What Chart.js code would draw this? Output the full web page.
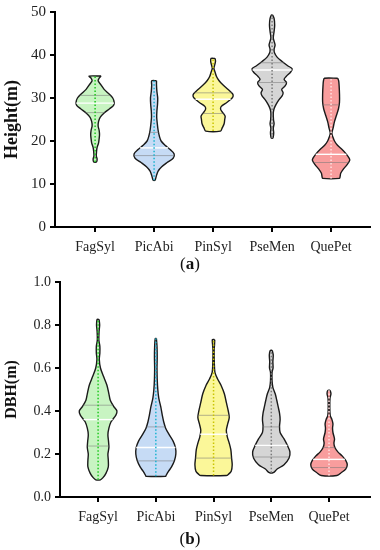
<!DOCTYPE html>
<html>
<head>
<meta charset="utf-8">
<script src="https://cdn.jsdelivr.net/npm/chart.js@4.4.0/dist/chart.umd.min.js"></script>
<style>
  body { margin: 0; background: #fff; }
  .panel { position: absolute; left: 0; width: 380px; height: 280px; }
  .panel canvas { display: block; }
  .cap { position: absolute; left: 0; width: 380px; text-align: center; font: 17px "Liberation Serif", serif; color: #111; }
</style>
</head>
<body>
<div class="panel" style="top:0"><canvas id="heightChart" width="380" height="275"></canvas><div class="cap" style="top:254px">(<b>a</b>)</div></div>
<div class="panel" style="top:270px"><canvas id="dbhChart" width="380" height="280"></canvas><div class="cap" style="top:259px">(<b>b</b>)</div></div>
<script>
const species = ["FagSyl", "PicAbi", "PinSyl", "PseMen", "QuePet"];

// violin outlines: [value, relative density]
const fagSylHeight = [[35.1,0.3],[34.6,0.2],[34.0,0.15],[33.0,0.3],[32.0,0.45],[31.0,0.68],[30.0,0.88],[29.0,0.95],[28.3,0.92],[27.5,0.72],[26.5,0.45],[25.5,0.25],[24.5,0.17],[23.5,0.15],[22.5,0.2],[21.5,0.22],[20.5,0.2],[19.5,0.17],[18.5,0.1],[17.5,0.07],[16.5,0.06],[15.8,0.1],[15.1,0.07]];
const picAbiHeight = [[34.0,0.12],[33.0,0.12],[31.5,0.14],[30.0,0.18],[28.5,0.17],[27.0,0.14],[25.5,0.13],[24.0,0.16],[22.5,0.2],[21.0,0.27],[20.0,0.35],[19.0,0.55],[18.0,0.8],[17.0,1.0],[16.0,0.95],[15.0,0.65],[14.0,0.38],[13.0,0.2],[12.0,0.12],[11.3,0.08],[10.9,0.05]];
const pinSylHeight = [[39.2,0.1],[38.5,0.12],[37.5,0.07],[36.9,0.04],[36.0,0.1],[35.0,0.17],[34.0,0.3],[33.0,0.5],[32.0,0.75],[31.0,0.97],[30.5,1.0],[30.0,0.95],[29.0,0.7],[28.0,0.4],[27.3,0.38],[26.5,0.5],[25.8,0.6],[25.0,0.58],[24.0,0.55],[23.0,0.45],[22.3,0.37]];
const pseMenHeight = [[49.3,0.03],[48.5,0.1],[47.0,0.13],[45.5,0.1],[44.0,0.06],[43.2,0.1],[42.3,0.15],[41.3,0.1],[40.5,0.12],[39.5,0.25],[38.5,0.5],[37.5,0.78],[36.8,1.0],[36.0,0.92],[35.0,0.7],[34.3,0.6],[33.6,0.72],[32.8,0.65],[32.0,0.48],[31.2,0.55],[30.5,0.5],[29.5,0.33],[28.5,0.2],[27.5,0.1],[26.5,0.06],[25.0,0.07],[24.0,0.1],[23.0,0.06],[22.0,0.08],[21.3,0.07],[20.7,0.04]];
const quePetHeight = [[34.6,0.33],[34.0,0.38],[33.0,0.4],[31.0,0.42],[29.0,0.42],[27.5,0.37],[26.0,0.27],[24.5,0.17],[23.0,0.1],[21.8,0.04],[20.8,0.1],[20.0,0.17],[19.0,0.32],[18.0,0.55],[17.0,0.75],[16.0,0.9],[15.5,0.93],[14.5,0.8],[13.5,0.62],[12.5,0.48],[11.7,0.45],[11.3,0.42]];

const fagSylDbh = [[0.826,0.05],[0.80,0.08],[0.77,0.05],[0.73,0.04],[0.70,0.09],[0.67,0.09],[0.64,0.06],[0.60,0.12],[0.56,0.28],[0.52,0.45],[0.48,0.55],[0.45,0.62],[0.42,0.8],[0.40,0.96],[0.38,0.9],[0.35,0.66],[0.32,0.55],[0.29,0.5],[0.26,0.53],[0.23,0.55],[0.20,0.5],[0.17,0.52],[0.14,0.52],[0.11,0.4],[0.09,0.25],[0.08,0.12]];
const picAbiDbh = [[0.737,0.03],[0.70,0.06],[0.65,0.07],[0.60,0.06],[0.55,0.07],[0.50,0.1],[0.46,0.15],[0.42,0.25],[0.38,0.33],[0.35,0.4],[0.32,0.5],[0.29,0.68],[0.26,0.88],[0.23,1.0],[0.20,1.02],[0.17,0.95],[0.14,0.8],[0.12,0.65],[0.10,0.52],[0.096,0.5]];
const pinSylDbh = [[0.732,0.06],[0.71,0.05],[0.68,0.03],[0.62,0.04],[0.58,0.07],[0.55,0.2],[0.52,0.38],[0.48,0.55],[0.44,0.65],[0.40,0.75],[0.37,0.8],[0.34,0.72],[0.31,0.65],[0.28,0.7],[0.25,0.8],[0.22,0.88],[0.18,0.92],[0.15,0.95],[0.12,0.9],[0.105,0.75],[0.10,0.65]];
const pseMenDbh = [[0.682,0.05],[0.66,0.1],[0.63,0.08],[0.60,0.09],[0.58,0.04],[0.54,0.04],[0.51,0.08],[0.48,0.2],[0.45,0.28],[0.42,0.35],[0.39,0.42],[0.36,0.45],[0.33,0.42],[0.30,0.45],[0.27,0.65],[0.24,0.82],[0.21,0.95],[0.18,0.9],[0.15,0.65],[0.13,0.3],[0.113,0.1]];
const quePetDbh = [[0.496,0.06],[0.48,0.1],[0.46,0.05],[0.42,0.04],[0.38,0.06],[0.36,0.15],[0.34,0.2],[0.32,0.18],[0.30,0.2],[0.27,0.28],[0.25,0.25],[0.23,0.3],[0.21,0.45],[0.19,0.68],[0.17,0.85],[0.15,0.93],[0.13,0.85],[0.115,0.65],[0.10,0.4]];

// [lower quartile, median, upper quartile]
const heightQuartiles = [[26.6, 28.8, 30.6], [16.6, 18.4, 22.0], [26.4, 29.7, 31.2], [33.6, 36.5, 38.2], [15.0, 16.9, 28.4]];
const dbhQuartiles = [[0.237, 0.36, 0.427], [0.168, 0.23, 0.326], [0.181, 0.292, 0.38], [0.186, 0.24, 0.326], [0.137, 0.175, 0.23]];

const fillColors = ["#c8f4c2", "#c6dbf5", "#fbf799", "#d5d5d5", "#f89d9d"];
const centerColors = ["#1ec81e", "#19b3d0", "#c9c400", "#7a7a7a", "#ffe0e0"];
const halfWidth = 0.34;

function densityAt(profile, v) {
  for (let i = 0; i < profile.length - 1; i++) {
    const a = profile[i], b = profile[i + 1];
    if (v <= a[0] && v >= b[0]) {
      return a[1] + (b[1] - a[1]) * (a[0] - v) / (a[0] - b[0]);
    }
  }
  return 0;
}

function makeDatasets(profiles, quartiles) {
  let violins = [];
  let lines = [];
  for (let i = 0; i < profiles.length; i++) {
    const c = i + 1;
    const p = profiles[i];
    let pts = [];
    for (let j = 0; j < p.length; j++) pts.push({ x: c + p[j][1] * halfWidth, y: p[j][0] });
    for (let j = p.length - 1; j >= 0; j--) pts.push({ x: c - p[j][1] * halfWidth, y: p[j][0] });
    pts.push(pts[0]);
    violins.push({
      data: pts, showLine: true, fill: 'shape', tension: 0.3,
      backgroundColor: fillColors[i], borderColor: '#1a1a1a', borderWidth: 1.4,
      pointRadius: 0, order: 2
    });
    const q = quartiles[i];
    for (let k = 0; k < 3; k++) {
      const w = densityAt(p, q[k]) * halfWidth;
      lines.push({
        data: [{ x: c - w, y: q[k] }, { x: c + w, y: q[k] }], showLine: true,
        borderColor: k === 1 ? '#ffffff' : 'rgba(120,120,120,0.55)', borderWidth: k === 1 ? 1.4 : 1,
        pointRadius: 0, order: 1
      });
    }
    lines.push({
      data: [{ x: c, y: p[p.length - 1][0] }, { x: c, y: p[0][0] }], showLine: true,
      borderColor: centerColors[i], borderWidth: 1.5, borderDash: [1.5, 2],
      pointRadius: 0, order: 0
    });
  }
  return violins.concat(lines);
}

function drawViolins(id, profiles, quartiles, cfg) {
  new Chart(document.getElementById(id), {
    type: 'scatter',
    data: { datasets: makeDatasets(profiles, quartiles) },
    options: {
      responsive: false,
      animation: false,
      layout: { padding: { top: cfg.top, right: 10, left: 0, bottom: 0 } },
      plugins: { legend: { display: false }, tooltip: { enabled: false } },
      scales: {
        x: {
          type: 'linear', min: cfg.xMin, max: cfg.xMax,
          afterBuildTicks: (s) => { s.ticks = species.map((n, i) => ({ value: i + 1 })); },
          afterFit: (s) => { s.height = cfg.xHeight; },
          ticks: { callback: (v) => species[v - 1], color: '#222', padding: 7, font: { family: 'Liberation Serif', size: cfg.tickSize } },
          grid: { drawOnChartArea: false, color: '#000', lineWidth: 2, tickLength: 5 },
          border: { color: '#000', width: 2 }
        },
        y: {
          min: 0, max: cfg.yMax,
          ticks: { stepSize: cfg.step, color: '#222', padding: 4, font: { family: 'Liberation Serif', size: cfg.yTickSize, lineHeight: 1 },
                   callback: (v) => cfg.decimals ? v.toFixed(1) : v },
          afterFit: (s) => { s.width = cfg.yWidth; },
          grid: { drawOnChartArea: false, color: '#000', lineWidth: 2, tickLength: 5 },
          border: { color: '#000', width: 2 },
          title: { display: true, text: cfg.title, color: '#111', padding: { top: 2, bottom: 0 },
                   font: { family: 'Liberation Serif', size: cfg.titleSize, weight: 'bold' } }
        }
      }
    }
  });
}

drawViolins('heightChart', [fagSylHeight, picAbiHeight, pinSylHeight, pseMenHeight, quePetHeight], heightQuartiles,
  { top: 12, xHeight: 48, yWidth: 55, yMax: 50, step: 10, decimals: false, title: 'Height(m)', titleSize: 18, tickSize: 14, yTickSize: 15, xMin: 0.32, xMax: 5.66 });
drawViolins('dbhChart', [fagSylDbh, picAbiDbh, pinSylDbh, pseMenDbh, quePetDbh], dbhQuartiles,
  { top: 12, xHeight: 53, yWidth: 60, yMax: 1.0, step: 0.2, decimals: true, title: 'DBH(m)', titleSize: 16, tickSize: 14, yTickSize: 14, xMin: 0.34, xMax: 5.71 });
</script>
</body>
</html>
